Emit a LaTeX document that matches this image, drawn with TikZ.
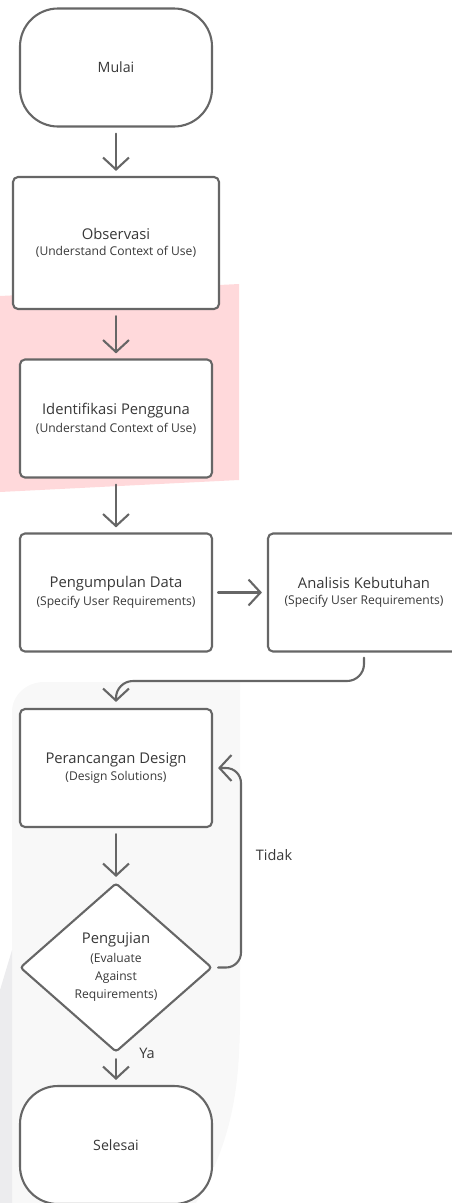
\documentclass[tikz,border=0pt]{standalone}
\usepackage{fontspec}
\setmainfont{Open Sans}
\usetikzlibrary{arrows.meta,shapes.geometric}

\definecolor{linegray}{HTML}{666666}
\definecolor{textgray}{HTML}{383838}
\definecolor{pinkbg}{HTML}{FFD9DB}
\definecolor{greybg}{HTML}{F8F8F8}
\definecolor{greystrip}{HTML}{ECECEE}

\newcommand{\steptext}[2]{{\fontsize{14.8}{17}\selectfont #1}\\[4pt]{\fontsize{12.1}{14}\selectfont #2}}

\begin{document}
\begin{tikzpicture}
  [x=1pt,y=-1pt,
   every node/.style={text=textgray,align=center,inner sep=0pt},
   stepbox/.style={draw=linegray,line width=2.1pt,rounded corners=5pt,fill=white,
     minimum width=192pt,minimum height=118pt},
   endbox/.style={draw=linegray,line width=2.1pt,rounded corners=38pt,fill=white,
     minimum width=192pt,minimum height=118pt,font=\fontsize{14.2}{16}\selectfont},
   checkbox/.style={diamond,draw=linegray,line width=2.1pt,rounded corners=3pt,fill=white,
     minimum width=192pt,minimum height=169pt,font=\fontsize{12.1}{18}\selectfont},
   flow/.style={draw=linegray,line width=2.1pt,line cap=round,
     -{Straight Barb[length=12pt,width=26pt,line width=2.1pt]}},
   tag/.style={font=\fontsize{14.5}{16}\selectfont}]
  \useasboundingbox (0,0) rectangle (452,1203);

  % backgrounds
  \fill[pinkbg] (0,296) -- (239,284) -- (239,480) -- (0,492) -- cycle;
  \fill[greybg] (12,1203) -- (12,712) to[out=90,in=180] (44,682) -- (240,682)
    -- (240,960) to[out=-90,in=60] (196,1203) -- cycle;
  \fill[greystrip] (0,990) -- (12,950) -- (12,1203) -- (0,1203) -- cycle;

  \node[endbox] (mulai) at (116,67.5) {Mulai};
  \node[stepbox,minimum width=206pt,minimum height=132pt] (obs) at (116,243)
    {\steptext{Observasi}{(Understand Context of Use)}};
  \node[stepbox] (ident) at (116,418.5)
    {\steptext{Identifikasi Pengguna}{(Understand Context of Use)}};
  \node[stepbox] (kumpul) at (116,592.5)
    {\steptext{Pengumpulan Data}{(Specify User Requirements)}};
  \node[stepbox] (analisis) at (364,592.5)
    {\steptext{Analisis Kebutuhan}{(Specify User Requirements)}};
  \node[stepbox] (rancang) at (116,768)
    {\steptext{Perancangan Design}{(Design Solutions)}};
  \node[checkbox] (uji) at (116,967.5)
    {{\fontsize{14.8}{17}\selectfont Pengujian}\\[1pt]
     (Evaluate\\Against\\Requirements)};
  \node[endbox] (selesai) at (116,1145) {Selesai};

  \foreach \from/\to in {mulai/obs, obs/ident, ident/kumpul, rancang/uji, uji/selesai}
    \draw[flow,shorten <=6pt,shorten >=5pt] (\from.south) -- (\to.north);
  \draw[flow,shorten <=5pt,shorten >=5pt] (kumpul.east) -- (analisis.west);

  \coordinate (turn) at (364,681);
  \draw[flow,rounded corners=17pt,shorten <=5pt,shorten >=6pt]
    (analisis.south) -- (turn) -- (116,681) -- (rancang.north);
  \coordinate (loop) at (241,967.5);
  \draw[flow,rounded corners=15pt,shorten <=5pt,shorten >=5pt]
    (uji.east) -- (loop) -- (241,768) -- (rancang.east);

  \node[tag] (tidak) at (274,855) {Tidak};
  \node[tag] (ya) at (147,1053) {Ya};
\end{tikzpicture}
\end{document}
